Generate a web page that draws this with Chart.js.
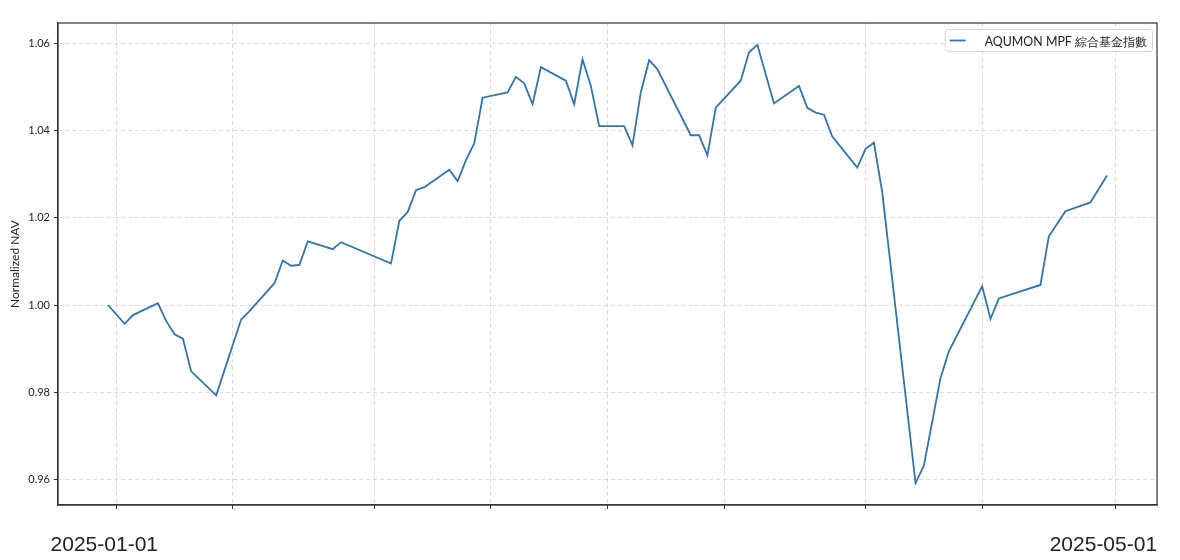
<!DOCTYPE html>
<html>
<head>
<meta charset="utf-8">
<script src="https://cdn.jsdelivr.net/npm/chart.js@4.4.1/dist/chart.umd.min.js"></script>
<style>
  html, body { margin: 0; padding: 0; background: #fff; }
</style>
</head>
<body>
<canvas id="navChart" width="1180" height="560"></canvas>
<script>
// Data
const seriesLabel = 'AQUMON MPF 綜合基金指數'

const dates = [
  '2024-12-31', '2025-01-02', '2025-01-03', '2025-01-06', '2025-01-07', '2025-01-08',
  '2025-01-09', '2025-01-10', '2025-01-13', '2025-01-16', '2025-01-17', '2025-01-20',
  '2025-01-21', '2025-01-22', '2025-01-23', '2025-01-24', '2025-01-27', '2025-01-28',
  '2025-02-03', '2025-02-04', '2025-02-05', '2025-02-06', '2025-02-07', '2025-02-10',
  '2025-02-11', '2025-02-12', '2025-02-13', '2025-02-14', '2025-02-17', '2025-02-18',
  '2025-02-19', '2025-02-20', '2025-02-21', '2025-02-24', '2025-02-25', '2025-02-26',
  '2025-02-27', '2025-02-28', '2025-03-03', '2025-03-04', '2025-03-05', '2025-03-06',
  '2025-03-07', '2025-03-11', '2025-03-12', '2025-03-13', '2025-03-14', '2025-03-17',
  '2025-03-18', '2025-03-19', '2025-03-21', '2025-03-24', '2025-03-25', '2025-03-26',
  '2025-03-27', '2025-03-28', '2025-03-31', '2025-04-01', '2025-04-02', '2025-04-03',
  '2025-04-07', '2025-04-08', '2025-04-10', '2025-04-11', '2025-04-15', '2025-04-16',
  '2025-04-17', '2025-04-22', '2025-04-23', '2025-04-25', '2025-04-28', '2025-04-30',
]

const nav = [
  1.0000, 0.9957, 0.9977, 1.0004, 0.9963, 0.9933,
  0.9923, 0.9848, 0.9793, 0.9967, 0.9986, 1.0050,
  1.0102, 1.0090, 1.0092, 1.0146, 1.0128, 1.0144,
  1.0095, 1.0193, 1.0213, 1.0263, 1.0270, 1.0310,
  1.0284, 1.0332, 1.0371, 1.0475, 1.0487, 1.0523,
  1.0508, 1.0460, 1.0545, 1.0514, 1.0460, 1.0563,
  1.0502, 1.0410, 1.0410, 1.0366, 1.0487, 1.0561,
  1.0540, 1.0389, 1.0389, 1.0343, 1.0452, 1.0514,
  1.0579, 1.0596, 1.0462, 1.0502, 1.0452, 1.0441,
  1.0436, 1.0386, 1.0315, 1.0358, 1.0372, 1.0258,
  0.9592, 0.9632, 0.9833, 0.9894, 1.0043, 0.9968,
  1.0015, 1.0046, 1.0157, 1.0215, 1.0235, 1.0297,
]

const xTickDates = [
  '2025-01-01', '2025-01-15', '2025-02-01', '2025-02-15', '2025-03-01',
  '2025-03-15', '2025-04-01', '2025-04-15', '2025-05-01',
]
const xLabelDates = ['2025-01-01', '2025-05-01']
const yTicks = [0.96, 0.98, 1.0, 1.02, 1.04, 1.06]

// date helpers (days since 2025-01-01)
const DAY = 86400000
const origin = Date.UTC(2025, 0, 1)
const dayNum = (s) => {
  const [y, m, d] = s.split('-').map(Number)
  return (Date.UTC(y, m - 1, d) - origin) / DAY
}
const dayStr = (n) => new Date(origin + Math.round(n) * DAY).toISOString().slice(0, 10)

const points = dates.map((d, i) => ({ x: dayNum(d), y: nav[i] }))

// matplotlib-like 5% margins
const xs = points.map((p) => p.x)
const ys = points.map((p) => p.y)
const xPad = (Math.max(...xs) - Math.min(...xs)) * 0.05
const yPad = (Math.max(...ys) - Math.min(...ys)) * 0.05

const gridColor = '#dcdcdc'
const axisColor = '#333333'

// top/right spines
const frame = {
  id: 'frame',
  afterDraw(chart) {
    const { ctx, chartArea: a } = chart
    ctx.save()
    ctx.strokeStyle = axisColor
    ctx.lineWidth = 1.2
    ctx.strokeRect(a.left, a.top, a.right - a.left, a.bottom - a.top)
    ctx.restore()
  },
}

// boxed legend inside the plot, top right
const legendBox = {
  id: 'legendBox',
  afterDraw(chart) {
    const { ctx, chartArea: a } = chart
    const ds = chart.data.datasets[0]
    ctx.save()
    ctx.font = '12.4px Lato'
    const tw = ctx.measureText(ds.label).width
    const w = 5 + 16 + 19 + tw + 5
    const h = 22
    const right = a.right - 5
    const left = right - w
    const top = a.top + 6
    ctx.beginPath()
    ctx.roundRect(left + 0.5, top + 0.5, w, h, 3)
    ctx.fillStyle = 'rgba(255,255,255,0.85)'
    ctx.fill()
    ctx.strokeStyle = '#d4d4d4'
    ctx.lineWidth = 1
    ctx.stroke()
    const cy = top + h / 2 + 0.5
    ctx.beginPath()
    ctx.moveTo(left + 5, cy)
    ctx.lineTo(left + 21, cy)
    ctx.strokeStyle = ds.borderColor
    ctx.lineWidth = ds.borderWidth
    ctx.stroke()
    ctx.fillStyle = '#222'
    ctx.textBaseline = 'middle'
    ctx.fillText(ds.label, left + 40, cy + 1)
    ctx.restore()
  },
}

new Chart(document.getElementById('navChart'), {
  type: 'line',
  data: {
    datasets: [
      {
        label: seriesLabel,
        data: points,
        borderColor: '#3274ae',
        borderWidth: 1.8,
        pointRadius: 0,
        tension: 0,
        fill: false,
      },
    ],
  },
  options: {
    responsive: false,
    animation: false,
    devicePixelRatio: 1,
    layout: { padding: { left: 0, top: 23, right: 23, bottom: 0 } },
    plugins: {
      legend: { display: false },
      tooltip: { enabled: false },
    },
    scales: {
      x: {
        type: 'linear',
        min: Math.min(...xs) - xPad,
        max: Math.max(...xs) + xPad,
        afterBuildTicks: (s) => {
          s.ticks = xTickDates.map((d) => ({ value: dayNum(d) }))
        },
        afterFit: (s) => {
          s.height = 55
          s.paddingLeft = 0
          s.paddingRight = 0
        },
        ticks: {
          callback: (v) => (xLabelDates.includes(dayStr(v)) ? dayStr(v) : ''),
          font: { family: 'Liberation Sans', size: 21 },
          color: '#222',
          maxRotation: 0,
          autoSkip: false,
          padding: 24,
          labelOffset: -12,
        },
        grid: { color: gridColor, tickColor: axisColor, tickLength: 4, tickWidth: 1 },
        border: { color: axisColor, width: 1.2, dash: [4, 3] },
      },
      y: {
        min: Math.min(...ys) - yPad,
        max: Math.max(...ys) + yPad,
        afterBuildTicks: (s) => {
          s.ticks = yTicks.map((v) => ({ value: v }))
        },
        afterFit: (s) => {
          s.width = 58
        },
        ticks: {
          callback: (v) => v.toFixed(2),
          font: { family: 'Lato', size: 11 },
          color: '#222',
          padding: 4,
        },
        title: {
          display: true,
          text: 'Normalized NAV',
          font: { family: 'Lato', size: 12 },
          color: '#222',
          padding: { top: 8, bottom: 0 },
        },
        grid: { color: gridColor, tickColor: axisColor, tickLength: 4, tickWidth: 1 },
        border: { color: axisColor, width: 1.2, dash: [4, 3] },
      },
    },
  },
  plugins: [frame, legendBox],
})
</script>
</body>
</html>
